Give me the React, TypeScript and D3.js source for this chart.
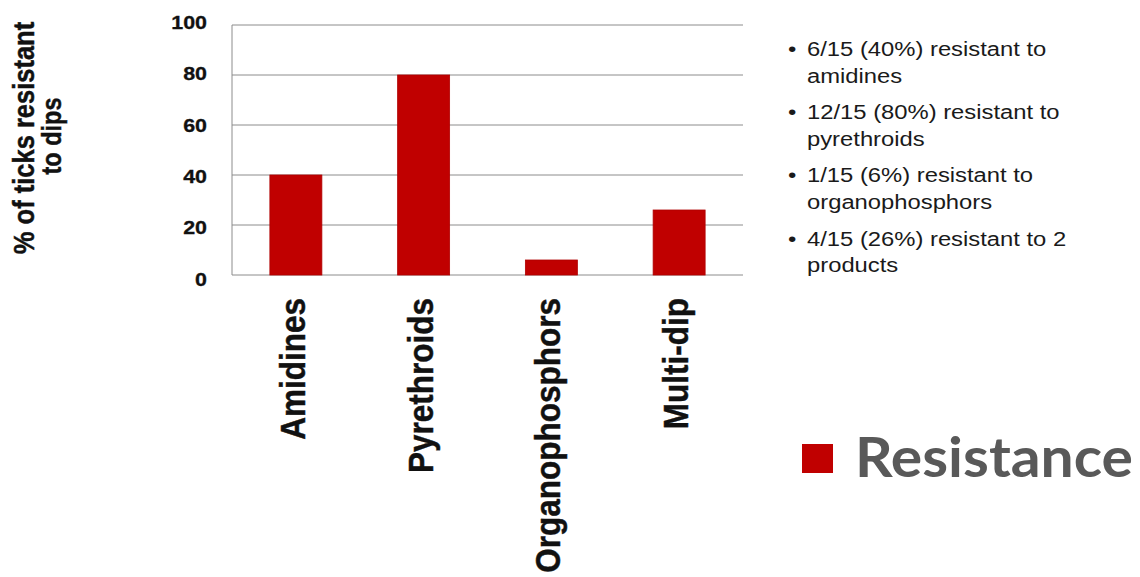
import React from "react";
import * as d3 from "d3";

const categories = ["Amidines", "Pyrethroids", "Organophosphors", "Multi-dip"];
const resistance = [40, 80, 6, 26];
const yTicks = [0, 20, 40, 60, 80, 100];
const yTitleLines = ["% of ticks resistant", "to dips"];
const legendSeries = "Resistance";
const bulletItems = [
  ["6/15 (40%) resistant to", "amidines"],
  ["12/15 (80%) resistant to", "pyrethroids"],
  ["1/15 (6%) resistant to", "organophosphors"],
  ["4/15 (26%) resistant to 2", "products"],
];

const W = 1140;
const H = 577;
const plot = { left: 232, right: 743, top: 25, bottom: 275 };
const RED = "#C00000";
const GRID = "#8c8c8c";
const SX = 1.19; // horizontal stretch of the original slide

export default function App() {
  const x = d3
    .scaleBand<string>()
    .domain(categories)
    .range([plot.left, plot.right])
    .paddingInner(0.593)
    .paddingOuter(0.2965);
  const y = d3.scaleLinear().domain([0, 100]).range([plot.bottom, plot.top]);
  // tick labels in the original sit on a slightly wider spacing than the grid
  const yLab = d3.scaleLinear().domain([0, 100]).range([279.5, 22.5]);

  return (
    <svg
      width={W}
      height={H}
      viewBox={`0 0 ${W} ${H}`}
      style={{ position: "absolute", left: 0, top: 0, background: "#fff" }}
      fontFamily="'Liberation Sans', Arial, sans-serif"
    >
      <rect x={0} y={0} width={W} height={H} fill="#fff" />
      {/* gridlines */}
      {yTicks.map((t) => (
        <line
          key={"g" + t}
          x1={plot.left}
          x2={plot.right}
          y1={y(t)}
          y2={y(t)}
          stroke={GRID}
          strokeWidth={1}
        />
      ))}
      <line x1={plot.left} x2={plot.left} y1={y(100)} y2={y(0)} stroke={GRID} strokeWidth={1} />

      {/* y tick labels */}
      {yTicks.map((t) => (
        <text
          key={"t" + t}
          transform={`translate(207,${yLab(t)}) scale(${SX},1)`}
          textAnchor="end"
          dominantBaseline="central"
          fontSize={18}
          fontWeight="bold"
          fill="#111"
          stroke="#111"
          strokeWidth={0.3}
        >
          {t}
        </text>
      ))}

      {/* y title */}
      <text
        transform={`translate(34,138) scale(${SX},1) rotate(-90)`}
        textAnchor="middle"
        fontSize={25.5}
        fontWeight="bold"
        fill="#111"
        stroke="#111"
        strokeWidth={0.4}
      >
        {yTitleLines[0]}
      </text>
      <text
        transform={`translate(61,136) scale(${SX},1) rotate(-90)`}
        textAnchor="middle"
        fontSize={23.5}
        fontWeight="bold"
        fill="#111"
        stroke="#111"
        strokeWidth={0.4}
      >
        {yTitleLines[1]}
      </text>

      {/* bars */}
      {categories.map((c, i) => (
        <rect
          key={"b" + c}
          x={x(c)!}
          y={y(resistance[i])}
          width={x.bandwidth()}
          height={y(0) - y(resistance[i])}
          fill={RED}
          stroke="#b00000"
          strokeWidth={0.8}
        />
      ))}

      {/* x labels */}
      {categories.map((c) => (
        <text
          key={"x" + c}
          transform={`translate(${x(c)! + x.bandwidth() / 2 + 9},298) scale(1.12,1) rotate(-90)`}
          textAnchor="end"
          fontSize={31.5}
          fontWeight="bold"
          fill="#111"
          stroke="#111"
          strokeWidth={0.4}
        >
          {c}
        </text>
      ))}

      {/* bullet text */}
      {bulletItems.map((lines, i) => {
        const base = 56 + i * 63.2;
        return (
          <g key={"bl" + i}>
            <text
              transform={`translate(788,${base}) scale(${SX},1)`}
              fontSize={20}
              fill="#1a1a1a"
            >
              •
            </text>
            {lines.map((ln, j) => (
              <text
                key={j}
                transform={`translate(807,${base + j * 26.5}) scale(${SX},1)`}
                fontSize={20}
                fill="#1a1a1a"
              >
                {ln}
              </text>
            ))}
          </g>
        );
      })}

      {/* legend */}
      <rect x={802} y={444} width={31} height={29} fill={RED} />
      <text
        x={855}
        y={477}
        fontFamily="Lato, 'Open Sans', sans-serif"
        fontWeight="bold"
        fontSize={55}
        fill="#595959"
        textLength={278}
        lengthAdjust="spacingAndGlyphs"
      >
        {legendSeries}
      </text>
    </svg>
  );
}
